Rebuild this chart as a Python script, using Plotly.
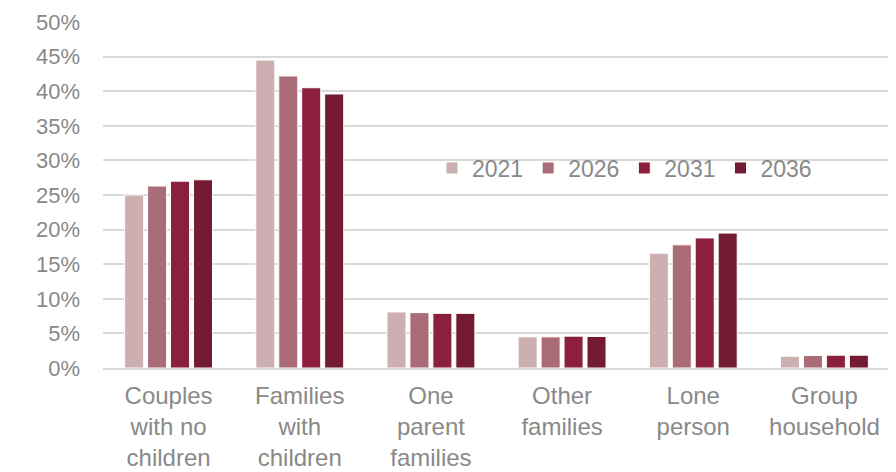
import plotly.graph_objects as go

categories = ["Couples<br>with no<br>children", "Families<br>with<br>children", "One<br>parent<br>families",
              "Other<br>families", "Lone<br>person", "Group<br>household"]
years = ["2021", "2026", "2031", "2036"]
v2021 = [0.250, 0.445, 0.081, 0.045, 0.166, 0.017]
v2026 = [0.263, 0.422, 0.080, 0.045, 0.178, 0.018]
v2031 = [0.270, 0.405, 0.079, 0.046, 0.188, 0.0185]
v2036 = [0.272, 0.396, 0.079, 0.0455, 0.195, 0.0185]
colors = ["#CDAEB1", "#AA6C76", "#8C1F3D", "#741B33"]

fig = go.Figure()
for name, vals, c in zip(years, [v2021, v2026, v2031, v2036], colors):
    fig.add_trace(go.Bar(name=name, x=categories, y=vals, marker=dict(color=c, line=dict(color="white", width=1))))

font_color = "#898989"
fig.update_layout(
    width=888, height=464,
    margin=dict(l=95, r=6, t=14, b=104),
    paper_bgcolor="white", plot_bgcolor="white",
    barmode="group", bargap=0.30, bargroupgap=0.17,
    font=dict(family="Liberation Sans, Arial, sans-serif", color=font_color, size=22),
    legend=dict(orientation="h", x=0.418, xanchor="left", y=0.578, yanchor="middle",
                font=dict(size=23, color=font_color), bgcolor="rgba(0,0,0,0)",
                itemwidth=30, traceorder="normal"),
    yaxis=dict(range=[0, 0.5], dtick=0.05, tickformat=".0%", showgrid=True, gridcolor="#D9D9D9",
               gridwidth=1.5, zeroline=False, showline=False, ticks="", ticklabelstandoff=22,
               automargin=False, tickfont=dict(size=22, color=font_color)),
    xaxis=dict(showline=True, linecolor="#D9D9D9", linewidth=1.5, ticks="", automargin=False,
               ticklabelstandoff=5, tickfont=dict(size=24, color=font_color)),
)
fig.write_html("out.html")
